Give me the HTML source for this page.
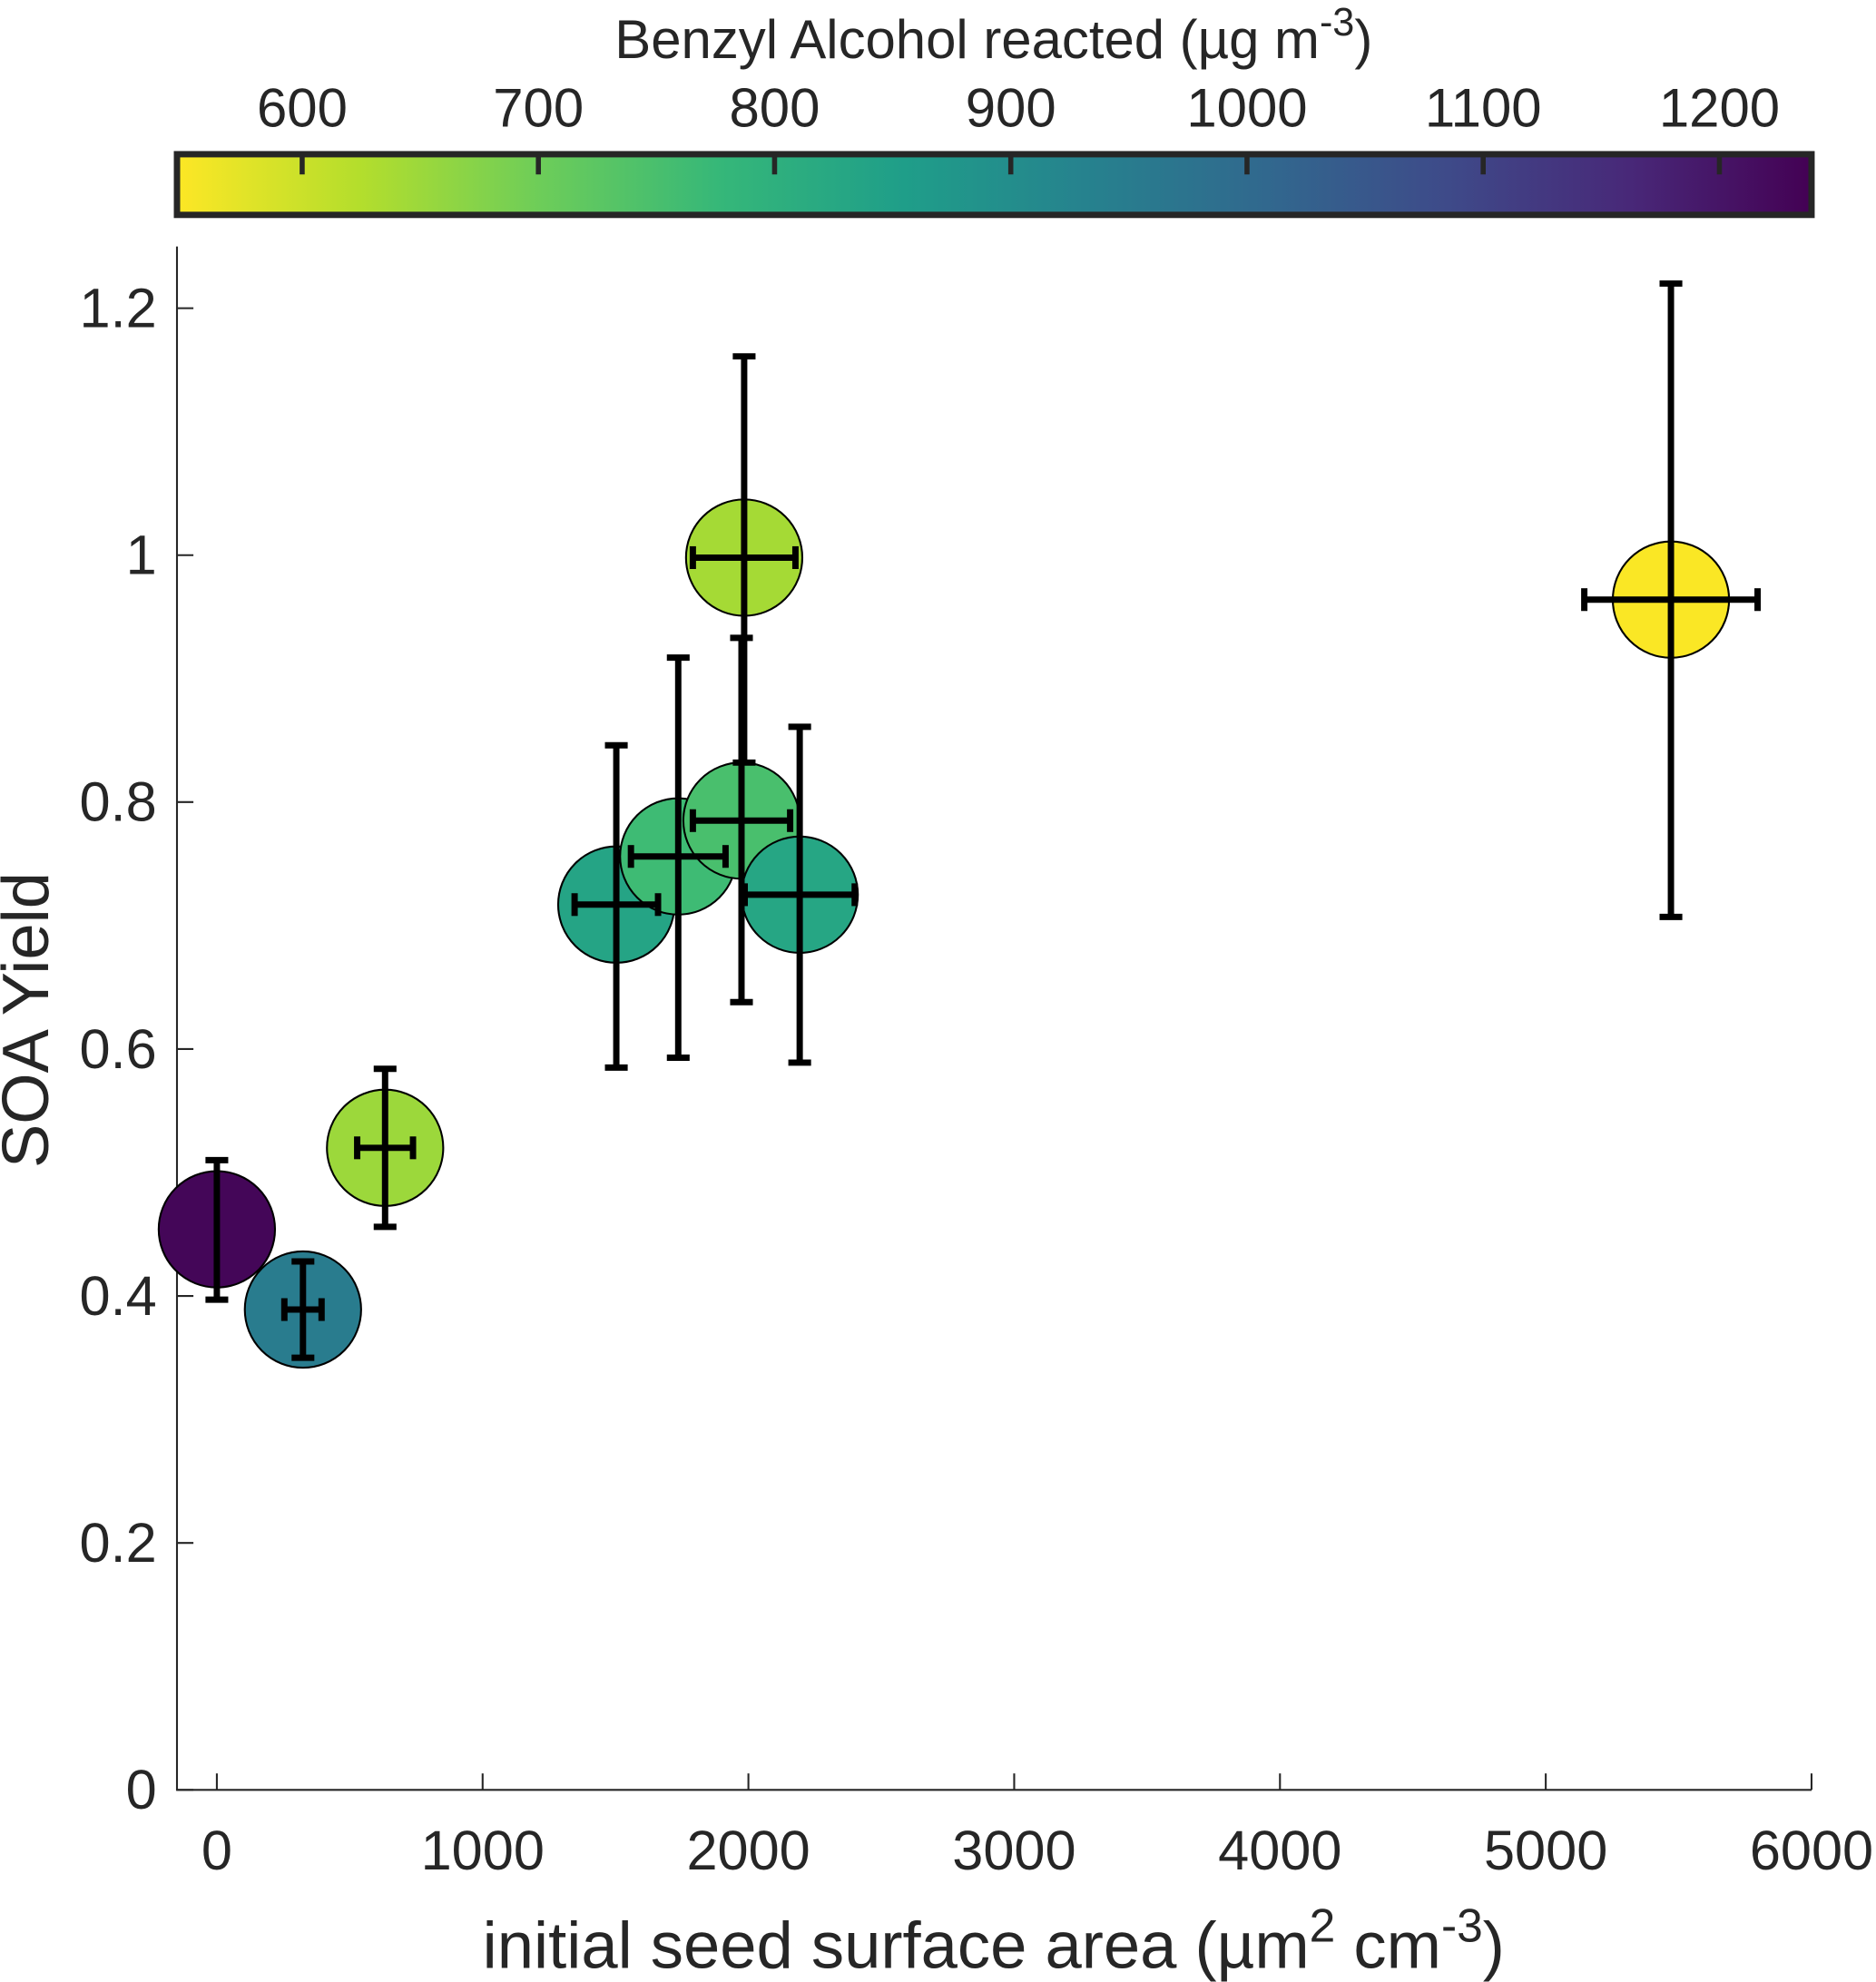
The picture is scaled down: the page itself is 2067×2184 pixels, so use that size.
<!DOCTYPE html>
<html><head><meta charset="utf-8">
<style>
html,body{margin:0;padding:0;background:#fff;}
svg{display:block;}
text{font-family:"Liberation Sans",sans-serif;fill:#262626;}
</style></head>
<body>
<svg id="chart" width="2067" height="2184" viewBox="0 0 1484 1568" xmlns="http://www.w3.org/2000/svg">
<defs><linearGradient id="cgrad" x1="0" x2="1" y1="0" y2="0"></linearGradient></defs>
<g id="cbar"></g>
<g id="axes"></g>
<g id="marks"></g>
</svg>
<script>
const xTicks = [0,1000,2000,3000,4000,5000,6000];
const yTicks = [0,0.2,0.4,0.6,0.8,1,1.2];
const yTickLabels = ["0","0.2","0.4","0.6","0.8","1","1.2"];
const cTicks = [600,700,800,900,1000,1100,1200];
const xVals = [0,324,633,1503,1736,1974,2193,1984,5471];
const yVals = [0.454,0.389,0.520,0.717,0.756,0.785,0.725,0.998,0.964];
const yLow  = [0.397,0.350,0.456,0.585,0.593,0.638,0.589,0.832,0.707];
const yHigh = [0.510,0.428,0.584,0.846,0.917,0.933,0.861,1.161,1.220];
const xErr  = [0,70,105,157,178,183,207,193,326];
const cVals = [1230,950,650,835,765,750,830,640,550];

const NS="http://www.w3.org/2000/svg";
const L=140,R=1433,T=195,B=1416;
const xMin=-150,xMax=6000,yMin=0,yMax=1.25;
const cMin=547,cMax=1239, CBL=140,CBR=1433,CBT=122,CBB=170;
const sx=v=>L+(v-xMin)/(xMax-xMin)*(R-L);
const sy=v=>B-(v-yMin)/(yMax-yMin)*(B-T);
const sc=v=>CBL+(v-cMin)/(cMax-cMin)*(CBR-CBL);
const vir=[[68,1,84],[72,40,120],[62,74,137],[49,104,142],[38,130,142],[31,158,137],[53,183,121],[109,205,89],[180,222,44],[253,231,37]];
function color(v){let t=(cMax-v)/(cMax-cMin);t=Math.max(0,Math.min(1,t))*(vir.length-1);const i=Math.min(Math.floor(t),vir.length-2),f=t-i;const c=vir[i].map((a,k)=>Math.round(a+(vir[i+1][k]-a)*f));return `rgb(${c})`;}
function el(tag,attrs,parent,txt){const e=document.createElementNS(NS,tag);for(const k in attrs)e.setAttribute(k,attrs[k]);if(txt!==undefined)e.textContent=txt;parent.appendChild(e);return e;}
const grad=document.getElementById('cgrad');
for(let i=0;i<vir.length;i++){el('stop',{offset:(i/(vir.length-1)),'stop-color':`rgb(${vir[vir.length-1-i]})`},grad);}
const cb=document.getElementById('cbar'),ax=document.getElementById('axes'),mk=document.getElementById('marks');
let t=el('text',{x:786,y:46,'font-size':43,'text-anchor':'middle'},cb);


t.innerHTML='Benzyl Alcohol reacted (µg m<tspan dy="-18" font-size="31">-3</tspan><tspan dy="18">)</tspan>';
let r=el('rect',{x:CBL,y:CBT,width:CBR-CBL,height:CBB-CBT,fill:'url(#cgrad)',stroke:'#262626','stroke-width':5},cb);


cTicks.forEach(v=>{const x=sc(v);
 el('line',{x1:x,x2:x,y1:CBT+2,y2:CBT+16,stroke:'#262626','stroke-width':4},cb);
 const tt=el('text',{x:x,y:100,'font-size':43,'text-anchor':'middle'},cb,String(v));
 
 });
el('path',{d:`M${L},${T}V${B}H${R}`,fill:'none',stroke:'#262626','stroke-width':1.5},ax);
xTicks.forEach(v=>{const x=sx(v);
 el('line',{x1:x,x2:x,y1:B,y2:B-13,stroke:'#262626','stroke-width':1.5},ax);
 const tt=el('text',{x:x,y:1479,'font-size':44,'text-anchor':'middle'},ax,String(v));
 
 });
yTicks.forEach((v,i)=>{const y=sy(v);
 el('line',{x1:L,x2:L+13,y1:y,y2:y,stroke:'#262626','stroke-width':1.5},ax);
 const tt=el('text',{x:124,y:y+15,'font-size':44,'text-anchor':'end'},ax,yTickLabels[i]);
 
 });
t=el('text',{x:786,y:1557,'font-size':52,'text-anchor':'middle'},ax);


t.innerHTML='initial seed surface area (µm<tspan dy="-21" font-size="37">2</tspan><tspan dy="21"> cm</tspan><tspan dy="-21" font-size="37">-3</tspan><tspan dy="21">)</tspan>';
t=el('text',{x:0,y:0,'font-size':52,'text-anchor':'middle',transform:'translate(38,807) rotate(-90)'},ax,'SOA Yield');


xVals.forEach((v,i)=>{const c=el('circle',{cx:sx(v),cy:sy(yVals[i]),r:46,fill:color(cVals[i]),stroke:'#000','stroke-width':1.5},mk);
 
 });
xVals.forEach((v,i)=>{const x=sx(v),y=sy(yVals[i]),y1=sy(yLow[i]),y2=sy(yHigh[i]);
 const g=el('g',{stroke:'#000','stroke-width':5,fill:'none'},mk);
 
 
 el('line',{x1:x,x2:x,y1:y1,y2:y2},g);
 el('line',{x1:x-9,x2:x+9,y1:y1,y2:y1},g);
 el('line',{x1:x-9,x2:x+9,y1:y2,y2:y2},g);
 if(xErr[i]>0){const xa=sx(v-xErr[i]),xb=sx(v+xErr[i]);
  el('line',{x1:xa,x2:xb,y1:y,y2:y},g);
  el('line',{x1:xa,x2:xa,y1:y-9,y2:y+9},g);
  el('line',{x1:xb,x2:xb,y1:y-9,y2:y+9},g);}
});
</script>
</body></html>
